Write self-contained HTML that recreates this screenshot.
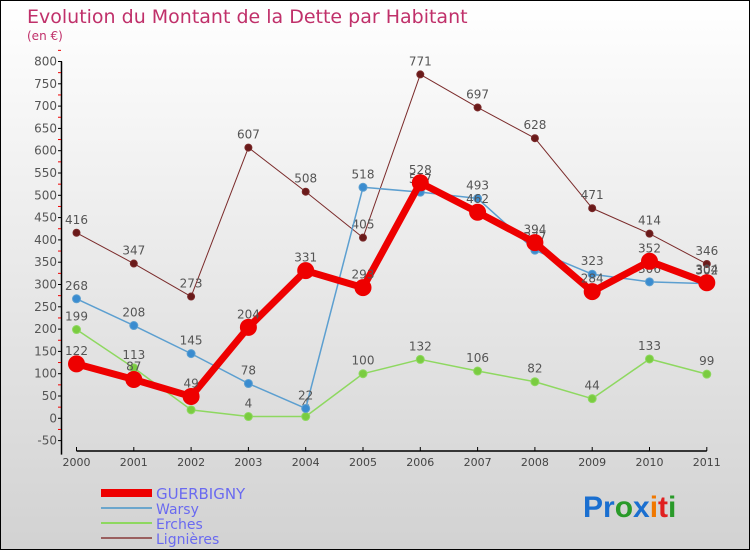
<!DOCTYPE html>
<html><head><meta charset="utf-8"><style>
body{margin:0;}
#c{position:relative;width:748px;height:548px;border:1px solid #000;background:linear-gradient(#fff,#d2d2d2);overflow:hidden;font-family:"DejaVu Sans","Liberation Sans",sans-serif;}
svg{position:absolute;left:0;top:0}
</style></head><body>
<div id="c">
<svg id="s" width="748" height="548">
<text x="26" y="22" font-size="19" fill="#c0306a">Evolution du Montant de la Dette par Habitant</text>
<text x="26" y="39" font-size="12" fill="#c0306a">(en €)</text>
<text x="582" y="516" font-size="30" font-family="Liberation Sans" font-weight="bold"><tspan fill="#1a6fd0">Pr</tspan><tspan fill="#2a9a2a">o</tspan><tspan fill="#1a6fd0">x</tspan><tspan fill="#f07800">i</tspan><tspan fill="#e02020">t</tspan><tspan fill="#2a9a2a">i</tspan></text>
</svg>
</div>
<script>
const years=["2000","2001","2002","2003","2004","2005","2006","2007","2008","2009","2010","2011"];
const yTicks=[-50,0,50,100,150,200,250,300,350,400,450,500,550,600,650,700,750,800];
const guerbigny=[122,87,49,204,331,293,528,462,394,284,352,304];
const warsy=[268,208,145,78,22,518,507,493,377,323,306,302];
const erches=[199,113,19,4,4,100,132,106,82,44,133,99];
const lignieres=[416,347,273,607,508,405,771,697,628,471,414,346];
const NS="http://www.w3.org/2000/svg";
const svg=document.getElementById('s');
const X=i=>75.5+i*57.3;
const Y=v=>417.3-v*0.446;
function el(t,a){const e=document.createElementNS(NS,t);for(const k in a)e.setAttribute(k,a[k]);svg.appendChild(e);return e;}
// axes
let ax=el('line',{x1:60.5,y1:Y(800),x2:60.5,y2:Y(-50)+14,stroke:'#000','stroke-width':1.5});


let xa=el('line',{x1:75.5,y1:450,x2:X(11),y2:450,stroke:'#000','stroke-width':1.5});


yTicks.forEach(v=>{
  el('line',{x1:57,y1:Y(v),x2:61,y2:Y(v),stroke:'#000'});
  el('line',{x1:57,y1:Y(v+25),x2:60,y2:Y(v+25),stroke:'#e00'});
  const t=el('text',{x:56,y:Y(v)+4,'font-size':12,fill:'#555','text-anchor':'end'});
  t.textContent=v;
  
  
});
years.forEach((y,i)=>{
  el('line',{x1:X(i),y1:446,x2:X(i),y2:450,stroke:'#000'});
  const t=el('text',{x:X(i),y:465,'font-size':11,fill:'#444','text-anchor':'middle'});
  t.textContent=y;
  
  
});
function series(name,data,color,w,r,dot,lblColor){
  const p=el('polyline',{points:data.map((v,i)=>X(i)+','+Y(v)).join(' '),fill:'none',stroke:color,'stroke-width':w,'stroke-linejoin':'round'});
  
  
  data.forEach((v,i)=>{
    const c=el('circle',{cx:X(i),cy:Y(v),r:r,fill:dot,stroke:color,'stroke-width':1});
    
    
    const t=el('text',{x:X(i),y:Y(v)-9,'font-size':12,fill:'#555','text-anchor':'middle'});
    t.textContent=v;
    
    
  });
}
series('lignieres',lignieres,'#7a2a2a',1,3.5,'#6a1a1a');
series('erches',erches,'#8ed860',1.5,4,'#7acc40');
series('warsy',warsy,'#5c9fd0',1.5,4,'#3a8cd0');
series('guerbigny',guerbigny,'#ee0000',7,8,'#ee0000');
const leg=[["GUERBIGNY","#ee0000",8],["Warsy","#6ca6cc",2],["Erches","#8ed860",2],["Lignières","#9a6060",2]];
leg.forEach((l,i)=>{
  const y=492+i*15;
  const ln=el('line',{x1:100,y1:y,x2:151,y2:y,stroke:l[1],'stroke-width':l[2]});
  
  
  const t=el('text',{x:155,y:y+6,'font-size':i==0?15:14,fill:'#6a6af0'});
  t.textContent=l[0];
  
  
});
</script>
</body></html>
